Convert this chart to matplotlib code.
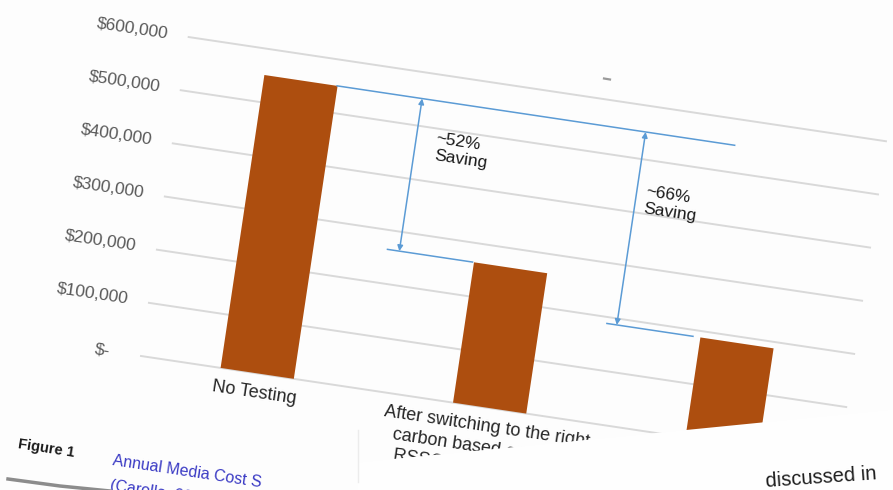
import matplotlib
matplotlib.use("Agg")
import matplotlib.pyplot as plt
from matplotlib.patches import Polygon
from matplotlib.transforms import Affine2D

plt.rcParams["font.family"] = ["Liberation Sans", "DejaVu Sans"]

# data
categories = [
    "No Testing",
    "After switching to the right\ncarbon based on these\nRSSCT testing results",
    "",
]
costs = [551000, 264000, 188000]
tick_values = [0, 100000, 200000, 300000, 400000, 500000, 600000]
savings = ["~52%\nSaving", "~66%\nSaving"]
saving_label_y = [465000, 426000]

BAR_COLOR = "#ad4e0f"
GRID_COLOR = "#d9d9d9"
ANNOT_COLOR = "#5b9bd5"
TICK_COLOR = "#595959"
TILT = 8.5  # the page is photographed slightly rotated


def tick_label(v):
    return "$-" if v == 0 else f"${v:,.0f}"


fig = plt.figure(figsize=(8.93, 4.90), dpi=100, facecolor="#fdfdfd")
ax = fig.add_axes([0, 0, 1, 1])
ax.set_facecolor("#fdfdfd")

# chart coords (category, dollars) -> picture pixels, then -> display
px_per_cat = 235.0
px_per_dollar = 322.5 / 600000
chart = (
    Affine2D()
    .translate(0.5, 0)
    .scale(px_per_cat, -px_per_dollar)
    .rotate_deg(TILT)
    .translate(141, 356)
)
chart_tr = chart + ax.transData


def cat_x(u):
    # pixel offset along the gridlines -> category units
    return u / px_per_cat - 0.5


# gridlines and tick labels
for v in tick_values:
    ax.plot([-0.5, 2.5], [v, v], color=GRID_COLOR, lw=1.4, transform=chart_tr, zorder=1)
    pad = 31 if v == 0 else 21
    ax.text(cat_x(-pad), v, tick_label(v), transform=chart_tr, rotation=-TILT,
            rotation_mode="anchor", ha="right", va="center", fontsize=12.5,
            color=TICK_COLOR)

# bars
ax.bar(range(len(costs)), costs, width=0.315, color=BAR_COLOR,
       transform=chart_tr, zorder=3)

# category labels
for i, lab in enumerate(categories):
    ax.text(i, -11 / px_per_dollar, lab, transform=chart_tr, rotation=-TILT,
            rotation_mode="anchor", ha="center", va="top", fontsize=13,
            color="#262626", linespacing=1.3, multialignment="center")

# saving annotations
ax.plot([cat_x(154), cat_x(556)], [costs[0], costs[0]], color=ANNOT_COLOR, lw=1.1,
        transform=chart_tr, zorder=4)
ax.plot([cat_x(228), cat_x(314)], [costs[1], costs[1]], color=ANNOT_COLOR, lw=1.1,
        transform=chart_tr, zorder=4)
ax.plot([cat_x(456), cat_x(543)], [costs[2], costs[2]], color=ANNOT_COLOR, lw=1.1,
        transform=chart_tr, zorder=4)

arrow_u = [240, 466]
text_u = [260, 475]
for k, lo in enumerate(costs[1:]):
    xa = cat_x(arrow_u[k])
    ax.annotate("", xy=(xa, lo), xytext=(xa, costs[0]), xycoords=chart_tr,
                textcoords=chart_tr,
                arrowprops=dict(arrowstyle="<|-|>", color=ANNOT_COLOR, lw=1.1,
                                mutation_scale=8, shrinkA=0, shrinkB=0),
                zorder=4)
    ax.text(cat_x(text_u[k]), saving_label_y[k], savings[k],
            transform=chart_tr, rotation=-TILT, rotation_mode="anchor",
            ha="left", va="center", fontsize=12.5, color="#1a1a1a")

# stray mark near the top of the page
ax.plot([604, 610], [78.5, 79.5], color="#9a9a9a", lw=1.6)

# second sheet lying over the lower right part of the page
ax.add_patch(Polygon([(358, 462.5), (893, 409.5), (893, 490), (358, 490)],
                     closed=True, facecolor="#fefefe", edgecolor="none", zorder=10))
ax.plot([358, 358], [430, 482], color="#ececec", lw=1, zorder=11)
ax.text(766, 482, "discussed in", rotation=4, rotation_mode="anchor", ha="left",
        va="center", fontsize=14.5, color="#1e1e1e", zorder=12)

# figure caption
ax.text(18, 444, "Figure 1", rotation=-9, rotation_mode="anchor", ha="left",
        va="center", fontsize=10.5, fontweight="bold", color="#1a1a1a", zorder=12)
ax.text(113, 461, "Annual Media Cost S", rotation=-8.5, rotation_mode="anchor",
        ha="left", va="center", fontsize=11.5, color="#3a3ac4", zorder=12)
ax.text(110, 486, "(Carollo, 20", rotation=-8.5, rotation_mode="anchor",
        ha="left", va="center", fontsize=11.5, color="#3a3ac4", zorder=12)
ax.plot([8, 60, 110], [479, 486, 491], color="#8c8c8c", lw=2.5, zorder=12)

ax.set_xlim(0, 893)
ax.set_ylim(490, 0)
ax.axis("off")

fig.savefig("out.png", dpi=100, facecolor=fig.get_facecolor())
